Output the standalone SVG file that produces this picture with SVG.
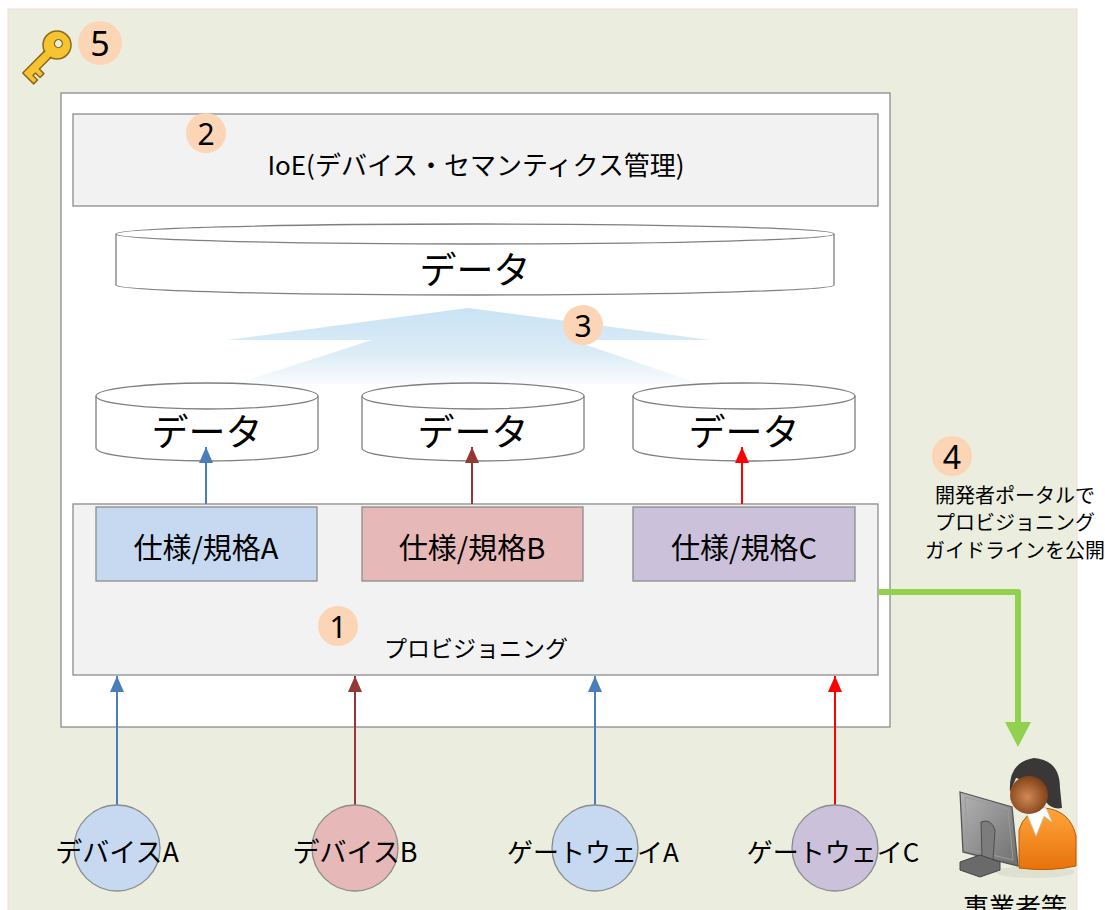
<svg xmlns="http://www.w3.org/2000/svg" width="1105" height="910" viewBox="0 0 1105 910">
  <defs>
    <style>
      text { font-family: "Noto Sans CJK JP", "Noto Sans", sans-serif; fill: #000; text-anchor: middle; dominant-baseline: central; }
      .box { stroke: #8C8C8C; stroke-width: 1.3; }
      .cyl { fill: #FFFFFF; stroke: #7F7F7F; stroke-width: 1.3; }
      .badge { fill: #FBD5B5; }
      .num { font-family: "Noto Sans", "Liberation Sans", sans-serif; font-size: 30px; }
      .conn { fill: none; stroke-width: 2; }
      .node-circle { stroke: #8C8C8C; stroke-width: 1.3; }
    </style>
    <linearGradient id="mergeFill" gradientUnits="userSpaceOnUse" x1="0" y1="308" x2="0" y2="390">
      <stop offset="0" stop-color="#C9E3F5"/>
      <stop offset="0.55" stop-color="#DCECF6"/>
      <stop offset="1" stop-color="#FFFFFF"/>
    </linearGradient>
    <linearGradient id="shirt" x1="0" y1="0" x2="0" y2="1">
      <stop offset="0" stop-color="#FFA53A"/>
      <stop offset="1" stop-color="#E8720C"/>
    </linearGradient>
    <radialGradient id="face" cx="0.45" cy="0.55" r="0.6">
      <stop offset="0" stop-color="#D08A55"/>
      <stop offset="1" stop-color="#7A3A12"/>
    </radialGradient>
    <linearGradient id="screen" x1="0" y1="0" x2="1" y2="1">
      <stop offset="0" stop-color="#B5B5B5"/>
      <stop offset="1" stop-color="#6E6E6E"/>
    </linearGradient>
    <marker id="ahBlue" markerUnits="userSpaceOnUse" markerWidth="16" markerHeight="14" viewBox="0 0 16 14" refX="16" refY="7" orient="auto">
      <path d="M0,0 L16,7 L0,14 Z" fill="#4A7EBB"/>
    </marker>
    <marker id="ahBrown" markerUnits="userSpaceOnUse" markerWidth="16" markerHeight="14" viewBox="0 0 16 14" refX="16" refY="7" orient="auto">
      <path d="M0,0 L16,7 L0,14 Z" fill="#953735"/>
    </marker>
    <marker id="ahRed" markerUnits="userSpaceOnUse" markerWidth="16" markerHeight="14" viewBox="0 0 16 14" refX="16" refY="7" orient="auto">
      <path d="M0,0 L16,7 L0,14 Z" fill="#FF0000"/>
    </marker>
  </defs>

  <!-- page background -->
  <rect x="0" y="0" width="1105" height="910" fill="#FFFFFF"/>
  <rect x="8" y="9" width="1069" height="910" fill="#EBEEDF" stroke="#F3DADA" stroke-width="1"/>

  <!-- key + badge 5 -->
  <g id="security">
    <g transform="translate(57,45) rotate(45)">
      <path d="M-4.5,10 L-4.5,44 L11,44 L11,38.5 L4.5,38.5 L4.5,35 L11,35 L11,29.5 L4.5,29.5 L4.5,10 Z" fill="#F6C431" stroke="#8A6A1A" stroke-width="1.5" stroke-linejoin="round"/>
      <circle cx="0" cy="0" r="14" fill="#F6C431" stroke="#8A6A1A" stroke-width="1.5"/>
      <rect x="-3.3" y="9" width="6.6" height="6" fill="#F6C431"/>
      <circle cx="0" cy="-2" r="4" fill="#EBEEDF" stroke="#8A6A1A" stroke-width="1.3"/>
    </g>
    <circle class="badge" cx="100" cy="43" r="22"/>
    <text class="num" x="100" y="43" style="font-size:34px">5</text>
  </g>

  <!-- platform frame -->
  <g id="platform">
    <rect class="box" x="61" y="93" width="829" height="634" fill="#FFFFFF"/>
  </g>

  <!-- IoE layer -->
  <g id="ioe">
    <rect class="box" x="73" y="114" width="805" height="92" fill="#F2F2F2"/>
    <circle class="badge" cx="206" cy="133" r="20"/>
    <text class="num" x="206" y="133">2</text>
    <text x="476" y="163" style="font-size:26px">IoE(デバイス・セマンティクス管理)</text>
  </g>

  <!-- integrated data store -->
  <g id="data-all">
    <path class="cyl" d="M116,234 L116,285 A359,10 0 0 0 834,285 L834,234"/>
    <ellipse class="cyl" cx="475" cy="234" rx="359" ry="10"/>
    <text x="475" y="268" style="font-size:37px">データ</text>
  </g>

  <!-- merge arrow -->
  <g id="merge">
    <path d="M468,308 L710,340 L572,340 L700,384 L235,384 L372,340 L227,340 Z" fill="url(#mergeFill)"/>
    <circle class="badge" cx="583" cy="325" r="20"/>
    <text class="num" x="583" y="325">3</text>
  </g>

  <!-- per-spec data stores -->
  <g id="data-a">
    <path class="cyl" d="M96,396 L96,448 A111,13 0 0 0 318,448 L318,396"/>
    <ellipse class="cyl" cx="207" cy="396" rx="111" ry="13"/>
    <text x="207" y="430" style="font-size:37px">データ</text>
  </g>
  <g id="data-b">
    <path class="cyl" d="M362,396 L362,448 A111,13 0 0 0 584,448 L584,396"/>
    <ellipse class="cyl" cx="473" cy="396" rx="111" ry="13"/>
    <text x="473" y="430" style="font-size:37px">データ</text>
  </g>
  <g id="data-c">
    <path class="cyl" d="M633,396 L633,448 A111,13 0 0 0 855,448 L855,396"/>
    <ellipse class="cyl" cx="744" cy="396" rx="111" ry="13"/>
    <text x="744" y="430" style="font-size:37px">データ</text>
  </g>

  <!-- provisioning layer -->
  <g id="provisioning">
    <rect class="box" x="73" y="504" width="805" height="171" fill="#F2F2F2"/>
    <circle class="badge" cx="338" cy="626" r="20"/>
    <text class="num" x="338" y="626">1</text>
    <text x="476" y="647" style="font-size:23px">プロビジョニング</text>
  </g>
  <g id="spec-a">
    <rect class="box" x="96" y="507" width="221" height="74" fill="#C6D9F1"/>
    <text x="206" y="546" style="font-size:29px">仕様/規格A</text>
  </g>
  <g id="spec-b">
    <rect class="box" x="362" y="507" width="221" height="74" fill="#E6B9B8"/>
    <text x="472" y="546" style="font-size:29px">仕様/規格B</text>
  </g>
  <g id="spec-c">
    <rect class="box" x="633" y="507" width="222" height="74" fill="#CCC1DA"/>
    <text x="744" y="546" style="font-size:29px">仕様/規格C</text>
  </g>

  <!-- connectors -->
  <g id="connectors">
    <line class="conn" x1="206" y1="504" x2="206" y2="447" stroke="#4A7EBB" marker-end="url(#ahBlue)"/>
    <line class="conn" x1="472" y1="504" x2="472" y2="447" stroke="#953735" marker-end="url(#ahBrown)"/>
    <line class="conn" x1="742" y1="504" x2="742" y2="447" stroke="#FF0000" marker-end="url(#ahRed)"/>

    <line class="conn" x1="117" y1="805" x2="117" y2="676" stroke="#4A7EBB" marker-end="url(#ahBlue)"/>
    <line class="conn" x1="355" y1="805" x2="355" y2="676" stroke="#953735" marker-end="url(#ahBrown)"/>
    <line class="conn" x1="595" y1="805" x2="595" y2="676" stroke="#4A7EBB" marker-end="url(#ahBlue)"/>
    <line class="conn" x1="835" y1="805" x2="835" y2="676" stroke="#FF0000" marker-end="url(#ahRed)"/>

    <polyline points="878,592 1018,592 1018,724" fill="none" stroke="#92D050" stroke-width="6" stroke-linejoin="round"/>
    <path d="M1005,722 L1031,722 L1018,747 Z" fill="#92D050"/>
  </g>

  <!-- devices and gateways -->
  <g id="device-a">
    <circle class="node-circle" cx="117" cy="848" r="43" fill="#C6D9F1"/>
    <text x="117" y="850" style="font-size:27px">デバイスA</text>
  </g>
  <g id="device-b">
    <circle class="node-circle" cx="355" cy="848" r="43" fill="#E6B9B8"/>
    <text x="355" y="850" style="font-size:27px">デバイスB</text>
  </g>
  <g id="gateway-a">
    <circle class="node-circle" cx="595" cy="848" r="43" fill="#C6D9F1"/>
    <text x="593" y="850" style="font-size:26px">ゲートウェイA</text>
  </g>
  <g id="gateway-c">
    <circle class="node-circle" cx="835" cy="848" r="43" fill="#CCC1DA"/>
    <text x="833" y="850" style="font-size:26px">ゲートウェイC</text>
  </g>

  <!-- developer portal note -->
  <g id="portal">
    <circle class="badge" cx="952" cy="456" r="20"/>
    <text class="num" x="952" y="456" style="font-size:32px">4</text>
    <text x="1015" y="494" style="font-size:20px">開発者ポータルで</text>
    <text x="1015" y="521" style="font-size:20px">プロビジョニング</text>
    <text x="1015" y="549" style="font-size:20px">ガイドラインを公開</text>
  </g>

  <!-- operator at workstation -->
  <g id="operator">
    <ellipse cx="1035" cy="872" rx="40" ry="6" fill="#D9DCCB" opacity="0.7"/>
    <!-- body -->
    <path d="M1019,868 L1019,830 Q1024,812 1044,808 Q1070,810 1076,836 L1076,866 Q1050,872 1019,868 Z" fill="url(#shirt)" stroke="#B85A00" stroke-width="1"/>
    <path d="M1027,814 L1036,836 L1044,816 L1052,822 L1046,808 Q1036,806 1027,814 Z" fill="#FFFFFF" stroke="#C9C9C9" stroke-width="0.8"/>
    <!-- head -->
    <path d="M1010,792 Q1008,762 1034,758 Q1060,760 1060,788 L1062,808 Q1052,810 1046,802 L1044,784 Q1028,782 1016,778 Z" fill="#3A3836"/>
    <circle cx="1029" cy="795" r="19" fill="url(#face)"/>
    <path d="M1010,792 Q1010,770 1026,766 Q1042,770 1048,788 L1050,778 Q1042,760 1030,760 Q1010,764 1010,792 Z" fill="#3A3836"/>
    <!-- monitor -->
    <path d="M960,792 L1012,807 L1018,866 L963,852 Z" fill="url(#screen)" stroke="#555555" stroke-width="1.3"/>
    <path d="M965,797 L1008,809 L1013,860 L968,849 Z" fill="none" stroke="#9A9A9A" stroke-width="1"/>
    <path d="M981,822 Q991,818 995,830 L993,860 L982,857 Z" fill="#7C7C7C" stroke="#4E4E4E" stroke-width="1"/>
    <path d="M960,862 L980,855 L1000,862 L1000,870 L980,877 L960,870 Z" fill="#6A6A6A" stroke="#444444" stroke-width="1"/>
    <text x="1015" y="905" style="font-size:26px">事業者等</text>
  </g>
</svg>
